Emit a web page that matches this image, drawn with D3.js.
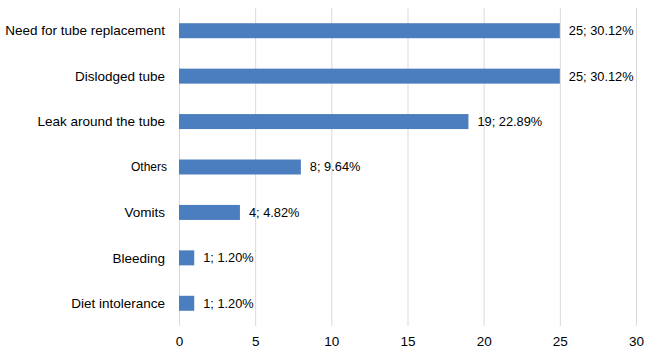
<!DOCTYPE html>
<html><head><meta charset="utf-8">
<script src="https://cdn.jsdelivr.net/npm/d3@7"></script>
<style>body{margin:0;background:#fff}svg{display:block}</style>
</head><body>
<svg id="c" width="650" height="354"></svg>
<script>
const categories = ["Need for tube replacement","Dislodged tube","Leak around the tube","Others","Vomits","Bleeding","Diet intolerance"];
const counts = [25,25,19,8,4,1,1];
const percents = ["30.12%","30.12%","22.89%","9.64%","4.82%","1.20%","1.20%"];
const xTicks = [0,5,10,15,20,25,30];

const svg = d3.select("#c");
const font = "'Liberation Sans', Arial, sans-serif";
const x = d3.scaleLinear().domain([0,30]).range([179,636]);
const y = d3.scaleBand().domain(categories).range([8,326]).paddingInner(0.67).paddingOuter(0.335);

// grid
svg.append("g").selectAll("line").data(xTicks).join("line")
  .attr("x1",d=>x(d)+0.5).attr("x2",d=>x(d)+0.5).attr("y1",8).attr("y2",326)
  .attr("stroke","#d9d9d9").attr("stroke-width",1);

// bars
svg.append("g").selectAll("rect").data(categories).join("rect")
  .attr("x",x(0)).attr("y",d=>y(d)).attr("width",(d,i)=>x(counts[i])-x(0)).attr("height",y.bandwidth())
  .attr("fill","#4a7ebf");

// value labels
svg.append("g").selectAll("text").data(categories).join("text")
  .attr("x",(d,i)=>x(counts[i])+9).attr("y",d=>y(d)+y.bandwidth()/2).attr("dy","0.35em")
  .attr("font-family",font).attr("font-size",12.8).attr("fill","#000")
  .text((d,i)=>counts[i]+"; "+percents[i]);

// category labels
svg.append("g").selectAll("text").data(categories).join("text")
  .attr("x",d=>d==="Others"?167:165).attr("y",d=>y(d)+y.bandwidth()/2).attr("dy","0.35em")
  .attr("text-anchor","end").attr("font-family",font)
  .attr("font-size",d=>d==="Others"?12:13.5).attr("fill","#000")
  .text(d=>d);

// x axis labels
const ax = svg.append("g").attr("transform","translate(0,326)")
  .call(d3.axisBottom(x).tickValues(xTicks).tickSize(0).tickPadding(10));
ax.select(".domain").remove();
ax.selectAll("text").attr("font-family",font).attr("font-size",13.5).attr("fill","#000");
</script>
</body></html>
